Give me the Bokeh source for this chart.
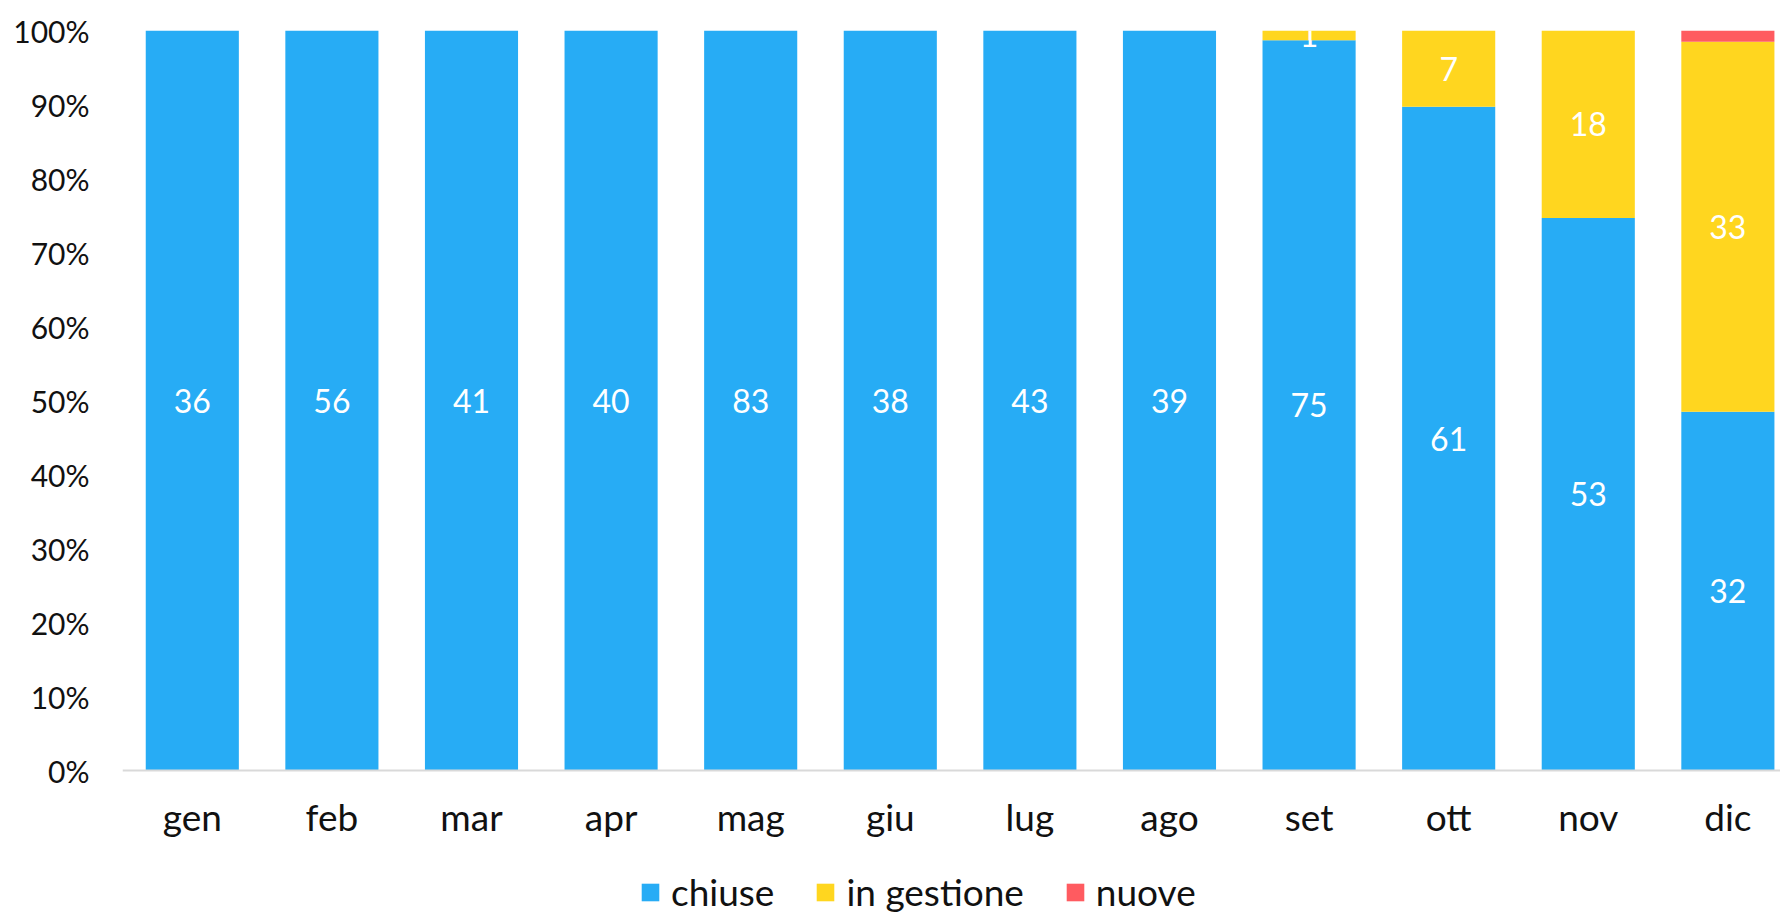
import numpy as np
from bokeh.plotting import figure
from bokeh.models import (ColumnDataSource, Range1d, FixedTicker, NumeralTickFormatter,
                          Legend, LegendItem, Span)
from bokeh.core.properties import value
from bokeh.embed import file_html
from bokeh.resources import INLINE

months = ["gen", "feb", "mar", "apr", "mag", "giu", "lug", "ago", "set", "ott", "nov", "dic"]
chiuse = [36, 56, 41, 40, 83, 38, 43, 39, 75, 61, 53, 32]
in_gestione = [0, 0, 0, 0, 0, 0, 0, 0, 1, 7, 18, 33]
nuove = [0, 0, 0, 0, 0, 0, 0, 0, 0, 0, 0, 1]
series_names = ["chiuse", "in gestione", "nuove"]
colors = ["#27acf5", "#ffd61f", "#ff5b60"]
y_ticks = [0.0, 0.1, 0.2, 0.3, 0.4, 0.5, 0.6, 0.7, 0.8, 0.9, 1.0]

FONT = "Lato"

x = np.arange(len(months))
c = np.array(chiuse, dtype=float)
g = np.array(in_gestione, dtype=float)
n = np.array(nuove, dtype=float)
tot = c + g + n
src = ColumnDataSource(dict(x=x, c=c / tot, g=g / tot, n=n / tot))

# frame extends below the 0% line to hold month labels and legend
p = figure(frame_width=1658, frame_height=884,
           x_range=Range1d(-0.5, 11.377), y_range=Range1d(-144 / 740, 1),
           x_axis_location=None,
           output_backend="svg", toolbar_location=None,
           min_border_left=122, min_border_top=30, min_border_right=0, min_border_bottom=0)
p.outline_line_color = None
p.xgrid.grid_line_color = None
p.ygrid.grid_line_color = None

rs = p.vbar_stack(["c", "g", "n"], x="x", width=0.667, color=colors, source=src,
                  line_color=None)

# baseline (x axis line)
p.add_layout(Span(location=0, dimension="width", line_color="#d9d9d9", line_width=2))

# month labels
msrc = ColumnDataSource(dict(x=x, m=months))
p.text(x="x", y=0, text="m", source=msrc, text_color="#111111", text_align="center",
       text_baseline="alphabetic", y_offset=46,
       text_font=value(FONT), text_font_size="37px")

# value labels for chiuse and in gestione
lx, ly, lt = [], [], []
for i in range(len(months)):
    if c[i] > 0:
        lx.append(i); ly.append(c[i] / tot[i] / 2); lt.append(str(chiuse[i]))
    if g[i] > 0:
        lx.append(i); ly.append((c[i] + g[i] / 2) / tot[i]); lt.append(str(in_gestione[i]))
lsrc = ColumnDataSource(dict(x=lx, y=ly, t=lt))
p.text(x="x", y="y", text="t", source=lsrc, text_color="white", text_align="center",
       text_baseline="middle", text_font=value(FONT), text_font_size="32px")

p.yaxis.ticker = FixedTicker(ticks=y_ticks)
p.yaxis.formatter = NumeralTickFormatter(format="0%")
p.yaxis.axis_line_color = None
p.yaxis.major_tick_line_color = None
p.yaxis.minor_tick_line_color = None
p.yaxis.major_label_text_font = FONT
p.yaxis.major_label_text_font_size = "30px"
p.yaxis.major_label_text_color = "#111111"
p.yaxis.major_label_standoff = 27

legend = Legend(items=[LegendItem(label=nm, renderers=[r]) for nm, r in zip(series_names, rs)],
                orientation="horizontal", location=(517, 0),
                glyph_width=22, glyph_height=22, label_standoff=10, spacing=40,
                padding=0, margin=0, border_line_color=None, background_fill_alpha=0,
                label_text_font=FONT, label_text_font_size="37px", label_text_color="#111111")
p.add_layout(legend, "center")

open("out.html", "w").write(file_html(p, INLINE))
